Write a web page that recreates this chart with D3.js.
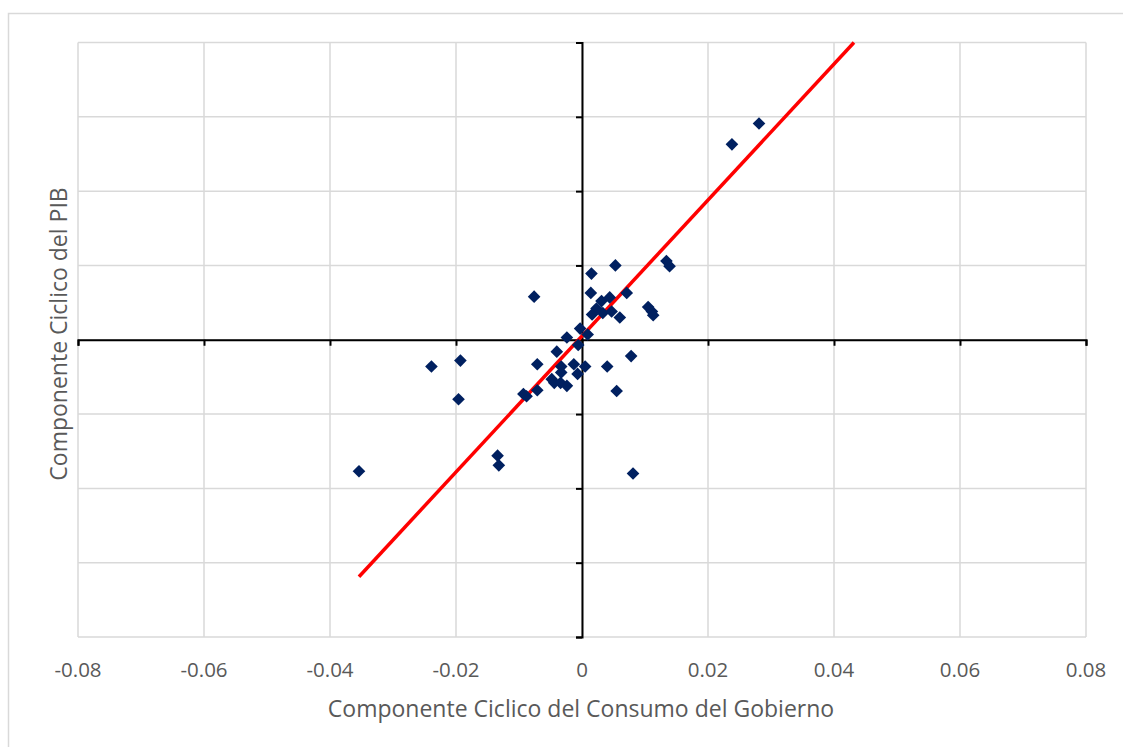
<!DOCTYPE html>
<html>
<head>
<meta charset="utf-8">
<script src="https://cdn.jsdelivr.net/npm/d3@7"></script>
<style>
  body { margin:0; background:#fff; }
  text { font-family:"Open Sans", sans-serif; fill:#595959; }
</style>
</head>
<body>
<div id="chart"></div>
<script>
// Componente ciclico: consumo del gobierno (x) vs PIB (y)
var consumo = [-0.0354,-0.0239,-0.0193,-0.0196,-0.0134,-0.0132,-0.0093,-0.0088,-0.0071,-0.0071,
  -0.0076,-0.0048,-0.0044,-0.0040,-0.0033,-0.0033,-0.0034,-0.0024,-0.0024,-0.0013,
  -0.0007,-0.0006,0.0005,-0.0003,0.0009,0.0015,0.0053,0.0014,0.0071,0.0031,
  0.0044,0.0023,0.0016,0.0033,0.0047,0.0060,0.0105,0.0111,0.0113,0.0134,
  0.0139,0.0040,0.0078,0.0055,0.0081,0.0238,0.0281];
var pib = [-0.0177,-0.0036,-0.0028,-0.0080,-0.0156,-0.0169,-0.0073,-0.0076,-0.0033,-0.0068,
  0.0058,-0.0053,-0.0058,-0.0016,-0.0036,-0.0044,-0.0058,-0.0062,0.0003,-0.0033,
  -0.0046,-0.0007,-0.0036,0.0015,0.0007,0.0089,0.0100,0.0063,0.0063,0.0052,
  0.0057,0.0042,0.0034,0.0036,0.0038,0.0030,0.0044,0.0038,0.0033,0.0106,
  0.0099,-0.0036,-0.0022,-0.0069,-0.0180,0.0263,0.0291];
var xTicks = [-0.08,-0.06,-0.04,-0.02,0,0.02,0.04,0.06,0.08];
var yTicks = [-0.04,-0.03,-0.02,-0.01,0,0.01,0.02,0.03,0.04];
// linea de tendencia (lineal)
var trendSlope = 0.915, trendIntercept = 0.0005;

var W = 1123, H = 747;
var svg = d3.select("#chart").append("svg").attr("width",W).attr("height",H);

// borde del grafico
svg.append("rect").attr("x",8.5).attr("y",13.5).attr("width",1200).attr("height",800)
  .style("fill","none").style("stroke","#d9d9d9").style("stroke-width",1.5);

var x = d3.scaleLinear().domain([-0.08,0.08]).range([78,1086]);
var y = d3.scaleLinear().domain([-0.04,0.04]).range([637,42.5]);

// cuadricula
svg.append("g").selectAll("line").data(xTicks).enter().append("line")
  .attr("x1",d=>x(d)).attr("x2",d=>x(d)).attr("y1",y(0.04)).attr("y2",y(-0.04))
  .style("stroke","#d9d9d9").style("stroke-width",1.5);
svg.append("g").selectAll("line").data(yTicks).enter().append("line")
  .attr("y1",d=>y(d)).attr("y2",d=>y(d)).attr("x1",x(-0.08)).attr("x2",x(0.08))
  .style("stroke","#d9d9d9").style("stroke-width",1.5);

// ejes cruzados en el origen
var xAxis = d3.axisBottom(x).tickValues(xTicks).tickSize(6).tickFormat("");
var gx = svg.append("g").attr("transform","translate(0,"+y(0)+")").call(xAxis);
gx.selectAll("path,line").style("stroke","#000").style("stroke-width",2);
var yAxis = d3.axisLeft(y).tickValues(yTicks).tickSize(6).tickFormat("");
var gy = svg.append("g").attr("transform","translate("+x(0)+",0)").call(yAxis);
gy.selectAll("path,line").style("stroke","#000").style("stroke-width",2);

// etiquetas del eje x (abajo)
svg.append("g").selectAll("text").data(xTicks).enter().append("text")
  .attr("x",d=>x(d)).attr("y",677).attr("text-anchor","middle")
  .style("font-size","20.5px")
  .text(d=>d==0 ? "0" : d3.format(".2f")(d).replace("−","-"));

// tendencia
var xEnd = (0.04 - trendIntercept)/trendSlope;
var xStart = d3.min(consumo);
svg.append("line")
  .attr("x1",x(xStart)).attr("y1",y(trendSlope*xStart+trendIntercept))
  .attr("x2",x(xEnd)).attr("y2",y(trendSlope*xEnd+trendIntercept))
  .style("stroke","#ff0000").style("stroke-width",3.5);

// puntos
var pts = consumo.map((d,i)=>({cx:d, cy:pib[i]}));
svg.append("g").selectAll("path").data(pts).enter().append("path")
  .attr("d", d3.symbol().type(d3.symbolSquare).size(80))
  .attr("transform",d=>"translate("+x(d.cx)+","+y(d.cy)+") rotate(45)")
  .style("fill","#002060");

// titulos
svg.append("text").attr("x",581).attr("y",717).attr("text-anchor","middle")
  .style("font-size","23px").text("Componente Ciclico del Consumo del Gobierno");
svg.append("text").attr("transform","translate(67,334) rotate(-90)")
  .attr("text-anchor","middle").style("font-size","23px").text("Componente Ciclico del PIB");
</script>
</body>
</html>
